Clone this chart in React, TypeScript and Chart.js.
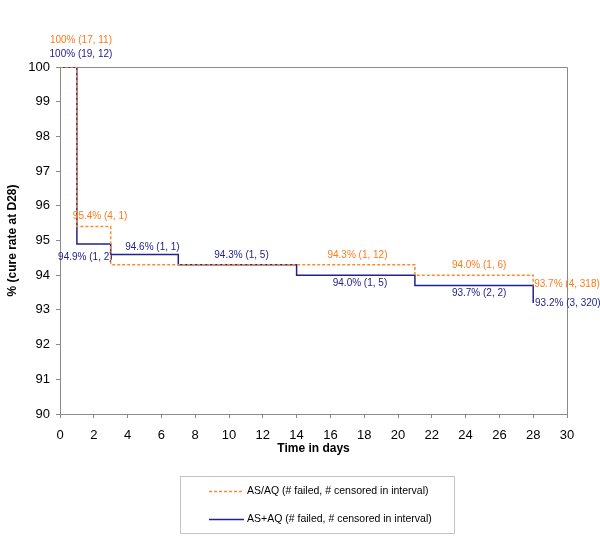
import React, { useEffect, useRef } from "react";
import { Chart, registerables } from "chart.js";

Chart.register(...registerables);

// ---- data ----
const asaqDays = [0, 1, 3, 21, 28];
const asaqValues = [100, 95.4, 94.3, 94.0, 93.7];
const asaqFailed = [17, 4, 1, 1, 4];
const asaqCensored = [11, 1, 12, 6, 318];

const asPlusDays = [0, 1, 3, 7, 14, 21, 28];
const asPlusValues = [100, 94.9, 94.6, 94.3, 94.0, 93.7, 93.2];
const asPlusFailed = [19, 1, 1, 1, 1, 2, 3];
const asPlusCensored = [12, 2, 1, 5, 5, 2, 320];

const xTicks = [0, 2, 4, 6, 8, 10, 12, 14, 16, 18, 20, 22, 24, 26, 28, 30];
const yTicks = [90, 91, 92, 93, 94, 95, 96, 97, 98, 99, 100];

const seriesNames = [
  "AS/AQ (# failed, # censored in interval)",
  "AS+AQ (# failed, # censored in interval)",
];

const xTitle = "Time in days";
const yTitle = "% (cure rate at D28)";

// ---- styling / layout ----
const FONT = '"Liberation Sans", Arial, Helvetica, sans-serif';
const ORANGE_LINE = "#FF8C2A";
const ORANGE_TEXT = "#FF7A1A";
const NAVY = "#22228F";
const AXIS_GRAY = "#8A8A8A";

// label placement (day position of label centre, pixel offset from step level)
const asaqLabelDay = [1.24, 2.37, 17.6, 24.8, 30.0];
const asaqLabelDy = [-27, -10, -10, -10, -1];
const asPlusLabelDay = [1.24, 1.5, 5.47, 10.74, 17.75, 24.8, 30.05];
const asPlusLabelDy = [-13, 13, -7, -10, 8, 8, 0];

const fmt = (v: number, f: number, c: number) =>
  (v === 100 ? "100%" : v.toFixed(1) + "%") + " (" + f + ", " + c + ")";

export default function App() {
  const ref = useRef<HTMLCanvasElement | null>(null);

  useEffect(() => {
    document.body.style.margin = "0";
    const canvas = ref.current;
    if (!canvas) return;

    const labelsPlugin = {
      id: "stepLabels",
      beforeDatasetsDraw(chart: any) {
        const { ctx, chartArea } = chart;
        ctx.save();
        ctx.strokeStyle = AXIS_GRAY;
        ctx.lineWidth = 1;
        ctx.beginPath();
        ctx.moveTo(chartArea.left, chartArea.top + 0.5);
        ctx.lineTo(chartArea.right + 0.5, chartArea.top + 0.5);
        ctx.lineTo(chartArea.right + 0.5, chartArea.bottom);
        ctx.stroke();
        ctx.restore();
      },
      afterDatasetsDraw(chart: any) {
        const { ctx } = chart;
        const xs = chart.scales.x;
        const ys = chart.scales.y;
        ctx.save();
        ctx.font = "10px " + FONT;
        ctx.textAlign = "center";
        ctx.textBaseline = "middle";
        ctx.fillStyle = ORANGE_TEXT;
        asaqValues.forEach((v, i) => {
          ctx.fillText(
            fmt(v, asaqFailed[i], asaqCensored[i]),
            xs.getPixelForValue(asaqLabelDay[i]),
            ys.getPixelForValue(v) + asaqLabelDy[i]
          );
        });
        ctx.fillStyle = NAVY;
        asPlusValues.forEach((v, i) => {
          ctx.fillText(
            fmt(v, asPlusFailed[i], asPlusCensored[i]),
            xs.getPixelForValue(asPlusLabelDay[i]),
            ys.getPixelForValue(v) + asPlusLabelDy[i]
          );
        });
        ctx.restore();
      },
      afterDraw(chart: any) {
        const { ctx } = chart;
        ctx.save();
        // legend box
        ctx.strokeStyle = "#C4C4C4";
        ctx.lineWidth = 1;
        ctx.strokeRect(180.5, 476.5, 274, 57);
        const rows = [491, 519];
        const colors = [ORANGE_LINE, NAVY];
        const dashes = [[3, 2], []];
        rows.forEach((y, i) => {
          ctx.strokeStyle = colors[i];
          ctx.lineWidth = 1.5;
          ctx.setLineDash(dashes[i]);
          ctx.beginPath();
          ctx.moveTo(209, y + 0.5);
          ctx.lineTo(244, y + 0.5);
          ctx.stroke();
          ctx.setLineDash([]);
          ctx.fillStyle = "#000";
          ctx.font = "10.5px " + FONT;
          ctx.textAlign = "left";
          ctx.textBaseline = "middle";
          ctx.fillText(seriesNames[i], 247, y);
        });
        ctx.restore();
      },
    };

    const chart = new Chart(canvas, {
      type: "line",
      data: {
        datasets: [
          {
            label: seriesNames[0],
            data: asaqDays.map((d, i) => ({ x: d, y: asaqValues[i] })),
            borderColor: ORANGE_LINE,
            borderWidth: 1.5,
            borderDash: [3, 2],
            stepped: "before",
            pointRadius: 0,
            fill: false,
          },
          {
            label: seriesNames[1],
            data: asPlusDays.map((d, i) => ({ x: d, y: asPlusValues[i] })),
            borderColor: NAVY,
            borderWidth: 1.5,
            stepped: "before",
            pointRadius: 0,
            fill: false,
          },
        ],
      },
      options: {
        animation: false,
        responsive: false,
        maintainAspectRatio: false,
        layout: { padding: { left: 0, right: 33, top: 67, bottom: 0 } },
        plugins: {
          legend: { display: false },
          tooltip: { enabled: false },
        },
        scales: {
          x: {
            type: "linear",
            min: 0,
            max: 30,
            afterBuildTicks: (s: any) => {
              s.ticks = xTicks.map((v) => ({ value: v }));
            },
            afterFit: (s: any) => {
              s.height = 132;
            },
            ticks: {
              font: { size: 13, family: FONT },
              color: "#000",
              padding: 10,
              maxRotation: 0,
              autoSkip: false,
            },
            grid: {
              drawOnChartArea: false,
              drawTicks: true,
              tickLength: 4,
              color: AXIS_GRAY,
            },
            border: { display: true, color: AXIS_GRAY, width: 1 },
            title: {
              display: true,
              text: xTitle,
              font: { size: 12, weight: "bold", family: FONT },
              color: "#000",
              padding: { top: 0, bottom: 90 },
            },
          },
          y: {
            type: "linear",
            min: 90,
            max: 100,
            afterBuildTicks: (s: any) => {
              s.ticks = yTicks.map((v) => ({ value: v }));
            },
            afterFit: (s: any) => {
              s.width = 60;
            },
            ticks: {
              font: { size: 13, family: FONT },
              color: "#000",
              padding: 6,
              autoSkip: false,
            },
            grid: {
              drawOnChartArea: false,
              drawTicks: true,
              tickLength: 4,
              color: AXIS_GRAY,
            },
            border: { display: true, color: AXIS_GRAY, width: 1 },
            title: {
              display: true,
              text: yTitle,
              font: { size: 12, weight: "bold", family: FONT },
              color: "#000",
              padding: { top: 5, bottom: 0 },
            },
          },
        },
      },
      plugins: [labelsPlugin],
    } as any);

    return () => chart.destroy();
  }, []);

  return (
    <div style={{ width: 600, height: 546, background: "#fff" }}>
      <canvas ref={ref} width={600} height={546} style={{ display: "block" }} />
    </div>
  );
}
